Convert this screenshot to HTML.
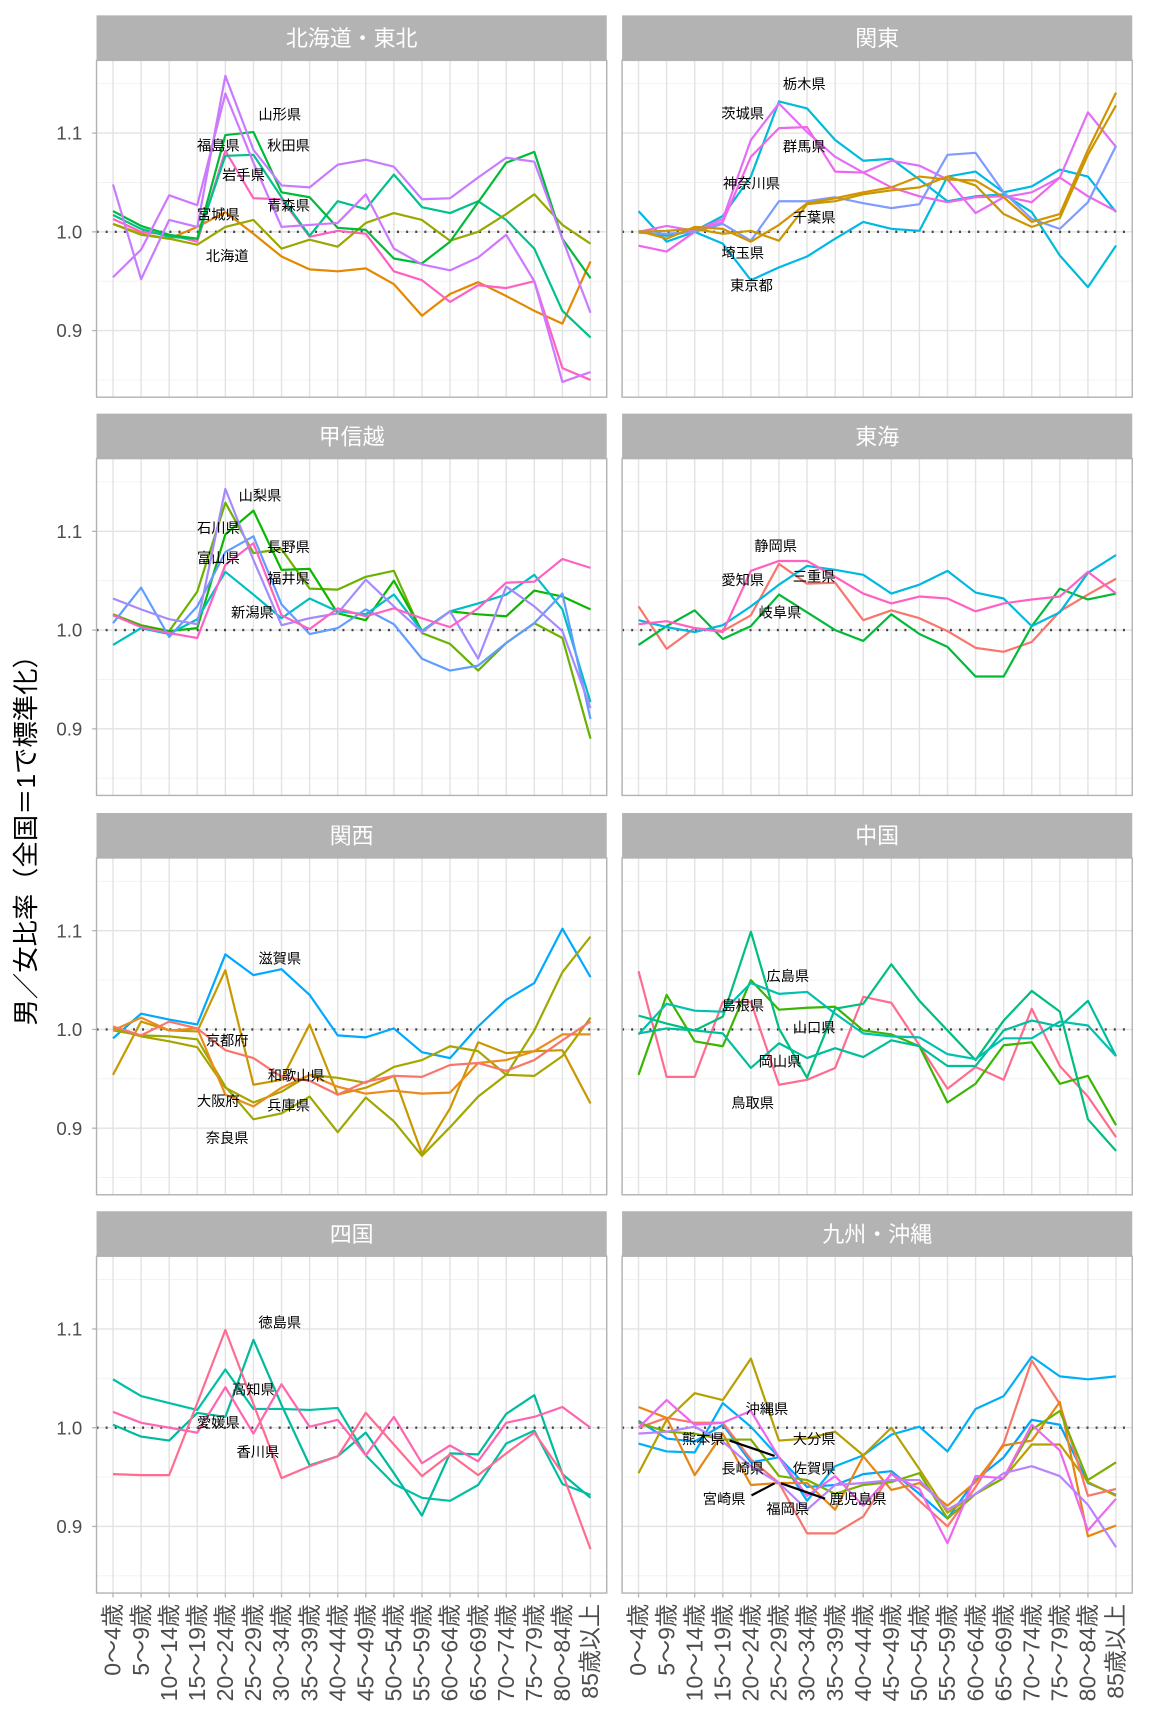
<!DOCTYPE html>
<html><head><meta charset="utf-8">
<style>
html,body{margin:0;padding:0;background:#fff;}
svg{display:block;font-family:"Liberation Sans","Noto Sans CJK JP",sans-serif;}
</style></head>
<body>
<svg id="chart" width="1152" height="1728" viewBox="0 0 1050 1575" xmlns="http://www.w3.org/2000/svg">
<text x="0" y="0" transform="translate(32,760) rotate(-90)" text-anchor="middle" font-size="24" fill="#000">男／女比率（全国＝1で標準化）</text>
</svg>
<script>
const categories = ["0～4歳","5～9歳","10～14歳","15～19歳","20～24歳","25～29歳","30～34歳","35～39歳","40～44歳","45～49歳","50～54歳","55～59歳","60～64歳","65～69歳","70～74歳","75～79歳","80～84歳","85歳以上"];
const yTicks = [0.9, 1.0, 1.1];
const yTickLabels = ["0.9","1.0","1.1"];
const yMinor = [0.85, 0.95, 1.05, 1.15];
const panelTitles = ["北海道・東北","関東","甲信越","東海","関西","中国","四国","九州・沖縄"];

const hokkaido = [1.008,0.998,0.993,1.005,1.02,0.998,0.975,0.962,0.96,0.963,0.947,0.915,0.937,0.949,0.935,0.92,0.907,0.97];
const aomori = [1.013,1.0,0.997,0.99,1.082,1.034,1.033,0.995,1.001,0.998,0.96,0.951,0.929,0.946,0.943,0.95,0.862,0.85];
const iwate = [1.017,1.003,0.995,0.993,1.077,1.078,1.035,0.996,1.031,1.023,1.058,1.025,1.019,1.031,1.012,0.983,0.92,0.893];
const miyagi = [1.008,0.997,0.993,0.987,1.005,1.012,0.983,0.992,0.985,1.009,1.019,1.012,0.991,1.0,1.018,1.038,1.007,0.988];
const akita = [1.021,1.006,0.997,0.993,1.098,1.101,1.04,1.035,1.004,1.002,0.973,0.968,0.99,1.03,1.07,1.081,0.993,0.953];
const yamagata = [1.048,0.952,1.012,1.005,1.158,1.083,1.047,1.045,1.068,1.073,1.066,1.033,1.034,1.055,1.075,1.071,0.993,0.918];
const fukushima = [0.954,0.982,1.037,1.027,1.14,1.07,1.005,1.007,1.009,1.038,0.983,0.967,0.961,0.974,0.997,0.95,0.848,0.858];
const tokyo = [1.021,0.99,1.0,0.988,0.951,0.964,0.975,0.993,1.01,1.003,1.001,1.056,1.061,1.04,1.046,1.063,1.056,1.02];
const tochigi = [1.0,0.996,1.001,1.016,1.056,1.132,1.125,1.093,1.072,1.074,1.053,1.031,1.036,1.038,1.02,0.976,0.944,0.986];
const ibaraki = [1.0,1.006,1.001,1.013,1.093,1.13,1.101,1.076,1.06,1.072,1.067,1.053,1.019,1.035,1.04,1.055,1.121,1.086];
const gunma = [0.986,0.98,1.0,1.01,1.076,1.105,1.106,1.061,1.06,1.045,1.036,1.03,1.035,1.036,1.03,1.055,1.036,1.021];
const saitama = [0.999,0.998,1.0,1.008,0.991,1.031,1.031,1.035,1.029,1.024,1.028,1.078,1.08,1.04,1.013,1.003,1.03,1.087];
const chiba = [1.001,0.993,1.005,1.003,0.99,1.007,1.029,1.034,1.04,1.045,1.056,1.053,1.052,1.035,1.01,1.018,1.083,1.141];
const kanagawa = [1.0,1.001,1.003,0.998,1.001,0.991,1.028,1.031,1.038,1.042,1.045,1.056,1.047,1.018,1.005,1.014,1.078,1.128];
const ishikawa = [1.016,1.005,0.999,1.039,1.129,1.078,1.082,1.042,1.041,1.054,1.06,0.997,0.986,0.959,0.987,1.007,0.992,0.89];
const nagano = [1.015,1.004,0.999,1.002,1.097,1.121,1.061,1.062,1.017,1.01,1.05,0.999,1.019,1.016,1.014,1.04,1.034,1.021];
const niigata = [0.985,1.002,0.996,1.011,1.059,1.036,1.012,1.032,1.019,1.016,1.036,0.999,1.019,1.027,1.036,1.056,1.021,0.927];
const toyama = [1.007,1.043,0.993,1.024,1.079,1.095,1.026,0.996,1.002,1.021,1.006,0.971,0.959,0.964,0.987,1.007,1.037,0.91];
const yamanashi = [1.032,1.021,1.011,1.006,1.143,1.071,1.005,1.012,1.017,1.051,1.024,0.998,1.019,0.971,1.044,1.024,0.999,0.921];
const fukui = [1.015,1.003,0.997,0.992,1.066,1.088,1.015,1.001,1.022,1.014,1.022,1.012,1.003,1.022,1.048,1.049,1.072,1.063];
const mie = [1.024,0.981,1.002,0.999,1.015,1.067,1.047,1.048,1.01,1.02,1.012,0.999,0.982,0.978,0.988,1.019,1.036,1.052];
const gifu = [0.985,1.004,1.02,0.991,1.004,1.036,1.018,1.0,0.989,1.016,0.996,0.983,0.953,0.953,1.004,1.042,1.031,1.037];
const shizuoka = [1.01,1.003,0.998,1.005,1.024,1.046,1.065,1.061,1.056,1.037,1.046,1.06,1.038,1.032,1.004,1.018,1.058,1.076];
const aichi = [1.006,1.009,1.002,0.998,1.06,1.07,1.07,1.054,1.037,1.027,1.034,1.032,1.019,1.027,1.031,1.034,1.059,1.037];
const shiga = [0.991,1.016,1.01,1.005,1.076,1.055,1.061,1.035,0.994,0.992,1.001,0.977,0.971,1.003,1.03,1.047,1.102,1.053];
const wakayama = [0.954,1.008,0.999,0.998,1.06,0.944,0.949,1.005,0.934,0.941,0.953,0.874,0.92,0.987,0.976,0.978,0.979,0.925];
const hyogo = [1.001,0.993,0.988,0.982,0.941,0.926,0.937,0.954,0.951,0.946,0.962,0.969,0.983,0.978,0.954,0.953,0.973,1.012];
const nara = [0.999,0.994,0.993,0.99,0.942,0.909,0.915,0.932,0.896,0.931,0.907,0.872,0.901,0.932,0.954,0.999,1.058,1.094];
const osaka = [0.999,1.012,0.999,1.001,0.934,0.922,0.941,0.954,0.942,0.935,0.938,0.935,0.936,0.966,0.969,0.978,0.995,0.995];
const kyoto = [1.003,0.994,1.008,1.001,0.979,0.971,0.952,0.948,0.934,0.947,0.953,0.952,0.964,0.966,0.958,0.969,0.989,1.008];
const tottori = [1.059,0.952,0.952,1.028,1.028,0.944,0.949,0.961,1.033,1.027,0.984,0.94,0.962,0.949,1.021,0.963,0.932,0.891];
const shimane = [0.954,1.035,0.988,0.983,1.05,1.02,1.022,1.023,0.999,0.995,0.983,0.926,0.945,0.984,0.987,0.945,0.953,0.903];
const hiroshima = [1.014,1.006,0.999,1.013,1.099,1.001,0.951,1.021,1.026,1.066,1.029,0.999,0.969,1.009,1.039,1.018,0.909,0.877];
const okayama = [0.996,1.001,0.999,0.996,0.961,0.986,0.971,0.981,0.972,0.989,0.983,0.963,0.963,0.999,1.009,1.003,1.029,0.973];
const yamaguchi = [0.995,1.026,1.019,1.018,1.047,1.036,1.038,1.016,0.996,0.993,0.992,0.975,0.97,0.991,0.991,1.008,1.004,0.973];
const kochi = [1.049,1.032,1.025,1.018,1.059,1.019,1.019,1.018,1.02,0.972,0.943,0.929,0.926,0.942,0.984,0.997,0.943,0.932];
const tokushima = [1.003,0.991,0.987,1.015,1.011,1.089,1.023,0.962,0.971,0.995,0.954,0.911,0.974,0.973,1.014,1.033,0.953,0.929];
const ehime = [1.016,1.005,1.0,0.995,1.041,0.994,1.044,1.001,1.008,0.972,1.011,0.964,0.982,0.966,1.005,1.011,1.021,1.0];
const kagawa = [0.953,0.952,0.952,1.025,1.099,1.024,0.949,0.961,0.971,1.015,0.983,0.951,0.973,0.952,0.974,0.995,0.954,0.877];
const okinawa = [0.984,0.976,0.975,1.025,1.001,0.97,0.926,0.961,0.972,0.993,1.001,0.976,1.019,1.032,1.072,1.052,1.049,1.052];
const kumamoto = [1.007,0.989,0.986,1.003,0.965,0.97,0.94,0.942,0.953,0.956,0.933,0.908,0.947,0.97,1.008,1.003,0.944,0.932];
const oita = [0.954,1.008,1.035,1.028,1.07,0.987,0.989,0.996,0.972,1.0,0.958,0.914,0.933,0.949,0.983,0.983,0.945,0.931];
const fukuoka = [1.0,1.01,1.005,1.005,0.968,0.944,0.893,0.893,0.91,0.954,0.926,0.9,0.94,0.984,1.068,1.024,0.931,0.938];
const nagasaki = [1.021,1.01,0.952,0.994,0.942,0.944,0.944,0.917,0.971,0.937,0.944,0.921,0.945,0.982,0.987,1.026,0.89,0.901];
const saga = [1.005,0.996,0.994,0.988,0.988,0.951,0.947,0.933,0.942,0.945,0.954,0.908,0.933,0.949,0.998,1.017,0.947,0.965];
const miyazaki = [1.0,1.028,1.003,1.005,1.017,0.97,0.931,0.951,0.921,0.953,0.938,0.883,0.951,0.949,1.003,0.977,0.896,0.928];
const kagoshima = [0.994,0.996,1.001,0.986,0.961,0.944,0.917,0.942,0.944,0.947,0.947,0.917,0.933,0.954,0.961,0.951,0.922,0.879];

const panels = [
 {series:[[hokkaido,"#E58700"],[aomori,"#FF61C3"],[iwate,"#00C08B"],[miyagi,"#99A800"],[akita,"#00BA38"],[yamagata,"#C77CFF"],[fukushima,"#CF78FF"]],
  labels:[["山形県",255,104],["福島県",199,132],["秋田県",263,132],["岩手県",222,159],["青森県",263,187],["宮城県",199,195],["北海道",207,233]]},
 {series:[[tokyo,"#00B8E5"],[tochigi,"#00BCD8"],[ibaraki,"#E36EF6"],[gunma,"#F066EA"],[saitama,"#7F9BFF"],[chiba,"#D39200"],[kanagawa,"#C99800"]],
  labels:[["栃木県",733,76],["茨城県",677,103],["群馬県",733,133],["神奈川県",685,167],["千葉県",742,198],["埼玉県",677,230],["東京都",685,260]]},
 {series:[[ishikawa,"#6BB100"],[nagano,"#0CB702"],[niigata,"#00BFC4"],[toyama,"#619CFF"],[yamanashi,"#A58AFF"],[fukui,"#FF61C3"]],
  labels:[["山梨県",237,451],["石川県",199,481],["長野県",263,498],["富山県",199,508],["福井県",263,527],["新潟県",230,558]]},
 {series:[[mie,"#F8766D"],[gifu,"#00BA38"],[shizuoka,"#00B8E0"],[aichi,"#FF61C3"]],
  labels:[["静岡県",707,497],["愛知県",677,528],["三重県",742,525],["岐阜県",711,558]]},
 {series:[[shiga,"#00A9FF"],[wakayama,"#C99800"],[hyogo,"#A8A400"],[nara,"#9EA800"],[osaka,"#EB8B1A"],[kyoto,"#F8766D"]],
  labels:[["滋賀県",255,873],["京都府",207,948],["和歌山県",270,980],["大阪府",199,1003],["兵庫県",263,1007],["奈良県",207,1037]]},
 {series:[[tottori,"#FF6C91"],[shimane,"#39B600"],[hiroshima,"#00BF7D"],[okayama,"#00BE9C"],[yamaguchi,"#00C0B0"]],
  labels:[["広島県",718,889],["島根県",677,916],["山口県",742,936],["岡山県",711,967],["鳥取県",686,1005]]},
 {series:[[kochi,"#00BFA5"],[tokushima,"#00BA9E"],[ehime,"#FF64B0"],[kagawa,"#FF6C91"]],
  labels:[["徳島県",255,1205],["高知県",231,1266],["愛媛県",199,1296],["香川県",235,1323]]},
 {series:[[okinawa,"#00B0F6"],[kumamoto,"#00A5FF"],[oita,"#B79F00"],[fukuoka,"#F8766D"],[nagasaki,"#E68613"],[saga,"#7CAE00"],[miyazaki,"#ED68ED"],[kagoshima,"#B983FF"]],
  labels:[["沖縄県",699,1284],["熊本県",641,1311],["大分県",742,1311],["長崎県",677,1338],["佐賀県",742,1338],["宮崎県",660,1366],["鹿児島県",782,1366],["福岡県",718,1375]]}
];

const NS = "http://www.w3.org/2000/svg";
const svg = document.getElementById('chart');
function mk(tag, attrs, parent){const e=document.createElementNS(NS,tag);for(const k in attrs)e.setAttribute(k,attrs[k]);(parent||svg).appendChild(e);return e;}
const colLeft=[88,567], panelW=465, rowTop=[55,418,782,1145], panelH=307;
function xPos(c,i){return colLeft[c]+15+i*25.6;}
function yPos(r,v){return rowTop[r]+156.3-(v-1)*900;}

panels.forEach((p,pi)=>{
  const c=pi%2, r=Math.floor(pi/2), L=colLeft[c], T=rowTop[r];
  const g=mk('g',{});
  
  
  const strip=mk('rect',{x:L,y:T-41,width:panelW,height:41,fill:'#B3B3B3'},g);
  
  
  const st=mk('text',{x:L+panelW/2,y:T-13,'text-anchor':'middle','font-size':20,fill:'#fff'},g);
  
  
  st.textContent=panelTitles[pi];
  mk('rect',{x:L,y:T,width:panelW,height:panelH,fill:'#fff'},g);
  yMinor.forEach(v=>{const y=yPos(r,v);if(y>T&&y<T+panelH){const l=mk('line',{x1:L,x2:L+panelW,y1:y,y2:y,stroke:'#F0F0F0','stroke-width':0.8},g);}});
  yTicks.forEach(v=>{const y=yPos(r,v);const l=mk('line',{x1:L,x2:L+panelW,y1:y,y2:y,stroke:'#E3E3E3','stroke-width':1.3},g);});
  categories.forEach((cat,i)=>{const x=xPos(c,i);const l=mk('line',{x1:x,x2:x,y1:T,y2:T+panelH,stroke:'#E3E3E3','stroke-width':1.3},g);});
  const ref=mk('line',{x1:L,x2:L+panelW,y1:yPos(r,1),y2:yPos(r,1),stroke:'#444','stroke-width':2.2,'stroke-dasharray':'1.8 6.5'},g);
  
  
  p.series.forEach((s,si)=>{
    const d=s[0].map((v,i)=>(i?'L':'M')+xPos(c,i).toFixed(1)+','+yPos(r,v).toFixed(1)).join('');
    const path=mk('path',{d:d,fill:'none',stroke:s[1],'stroke-width':2,'stroke-linejoin':'round'},g);
    
    
  });
  if(pi===7){
    [[665,1313,706,1327],[685,1363,706,1352],[712,1352,752,1366]].forEach(a=>{const l=mk('line',{x1:a[0],y1:a[1],x2:a[2],y2:a[3],stroke:'#000','stroke-width':2},g);});
  }
  p.labels.forEach(lb=>{const t=mk('text',{x:lb[1],y:lb[2]+5,'text-anchor':'middle','font-size':13,fill:'#000'},g);t.textContent=lb[0];});
  const b=mk('rect',{x:L,y:T,width:panelW,height:panelH,fill:'none',stroke:'#B3B3B3','stroke-width':1.3},g);
  
  
  if(c===0){
    yTicks.forEach((v,k)=>{const y=yPos(r,v);
      mk('line',{x1:L-4,x2:L,y1:y,y2:y,stroke:'#B3B3B3','stroke-width':1.2},g);
      const t=mk('text',{x:L-13,y:y+6,'text-anchor':'end','font-size':17,fill:'#4D4D4D'},g);
      
      
      t.textContent=yTickLabels[k];});
  }
  if(r===3){
    categories.forEach((cat,i)=>{const x=xPos(c,i);
      mk('line',{x1:x,x2:x,y1:T+panelH,y2:T+panelH+4,stroke:'#B3B3B3','stroke-width':1.2},g);
      const t=mk('text',{x:0,y:0,transform:'translate('+(x+7)+','+(T+panelH+10)+') rotate(-90)','text-anchor':'end','font-size':21,fill:'#4D4D4D'},g);
      
      
      t.textContent=cat;});
  }
});
</script>
</body></html>
